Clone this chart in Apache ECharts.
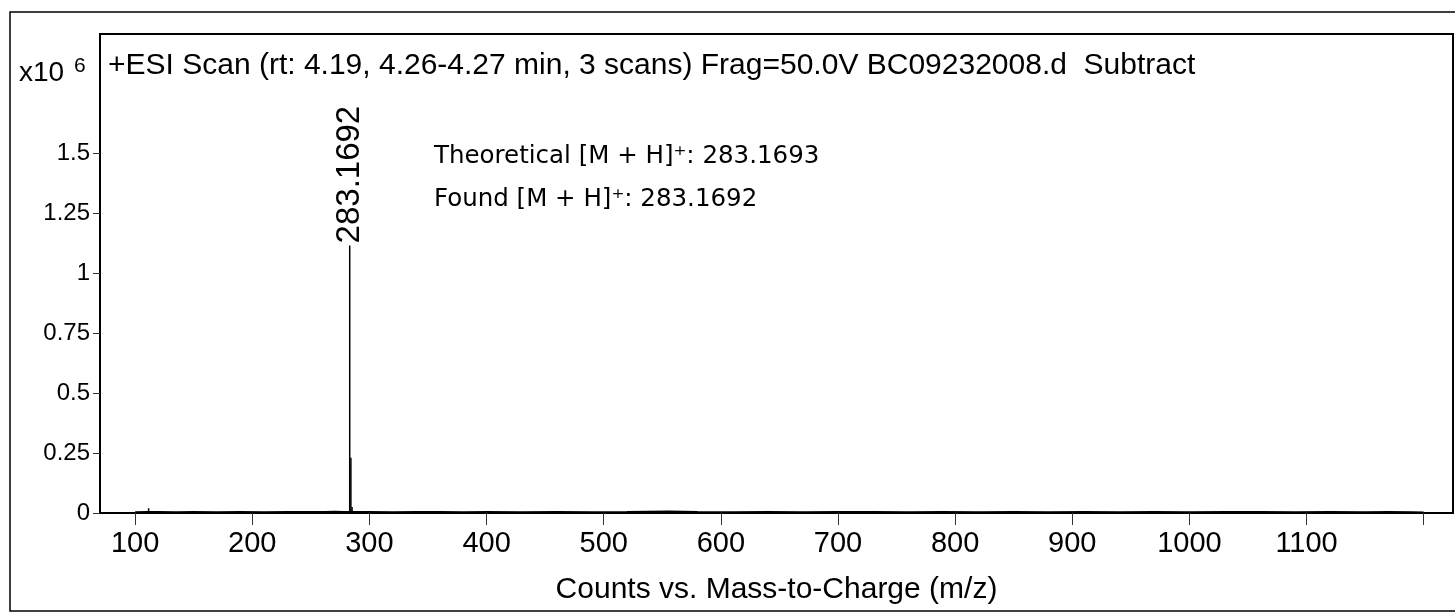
<!DOCTYPE html>
<html>
<head>
<meta charset="utf-8">
<script src="https://cdn.jsdelivr.net/npm/echarts@6/dist/echarts.min.js"></script>
<style>
	html, body { margin: 0; padding: 0; background: #fff; }
	#chart { width: 1455px; height: 613px; }
</style>
</head>
<body>
<div id="chart"></div>
<script>
	// peaks (m/z, counts x10^6)
	var peakMz = [111.5, 283.1692, 284.1725, 285.175];
	var peakCounts = [0.02, 1.115, 0.23, 0.025];

	// baseline noise (m/z, counts x10^6)
	var noiseMz = [100, 110, 120, 135, 150, 170, 190, 210, 230, 250, 262, 270, 278, 290, 300, 320, 340, 360, 380, 400, 430, 460, 490, 520, 555, 580, 610, 640, 670, 700, 730, 760, 790, 820, 850, 880, 910, 940, 970, 1000, 1030, 1060, 1090, 1120, 1150, 1170, 1190, 1200];
	var noiseCounts = [0.004, 0.005, 0.005, 0.004, 0.005, 0.004, 0.005, 0.004, 0.005, 0.005, 0.005, 0.006, 0.005, 0.005, 0.005, 0.004, 0.005, 0.005, 0.004, 0.005, 0.004, 0.005, 0.004, 0.005, 0.007, 0.005, 0.004, 0.005, 0.004, 0.005, 0.005, 0.004, 0.005, 0.004, 0.005, 0.004, 0.005, 0.004, 0.005, 0.004, 0.005, 0.005, 0.004, 0.005, 0.004, 0.005, 0.004, 0.003];

	var xTicks = [100, 200, 300, 400, 500, 600, 700, 800, 900, 1000, 1100, 1200];
	var xLabels = [100, 200, 300, 400, 500, 600, 700, 800, 900, 1000, 1100];
	var yTicks = [0, 0.25, 0.5, 0.75, 1, 1.25, 1.5];

	var titleText = '+ESI Scan (rt: 4.19, 4.26-4.27 min, 3 scans) Frag=50.0V BC09232008.d  Subtract';
	var noteLines = ['Theoretical [M + H]\u207A: 283.1693', 'Found [M + H]\u207A: 283.1692'];

	var chart = echarts.init(document.getElementById('chart'));

	var peakData = [];
	for (var i = 0; i < peakMz.length; i++) {
		var item = { value: [peakMz[i], peakCounts[i]] };
		if (i === 1) {
			item.label = {
				show: true,
				position: 'top',
				rotate: 90,
				align: 'left',
				verticalAlign: 'middle',
				distance: 2,
				formatter: '283.1692',
				color: '#000',
				fontFamily: 'Liberation Sans',
				fontSize: 33
			};
		}
		peakData.push(item);
	}
	var noiseData = [];
	for (var j = 0; j < noiseMz.length; j++) {
		noiseData.push([noiseMz[j], noiseCounts[j]]);
	}

	var option = {
		animation: false,
		backgroundColor: '#fff',
		title: {
			text: titleText,
			left: 108,
			top: 51,
			padding: 0,
			textStyle: {
				fontFamily: 'Liberation Sans',
				fontWeight: 'normal',
				fontSize: 30,
				color: '#000'
			}
		},
		grid: {
			left: 100,
			top: 34,
			right: 2,
			bottom: 100,
			show: true,
			borderColor: '#000',
			borderWidth: 2,
			backgroundColor: 'transparent'
		},
		xAxis: {
			type: 'value',
			min: 70,
			max: 1225,
			name: 'Counts vs. Mass-to-Charge (m/z)',
			nameLocation: 'middle',
			nameGap: 62,
			nameTextStyle: { fontFamily: 'Liberation Sans', fontSize: 30, color: '#000' },
			axisLine: { show: true, lineStyle: { color: '#000', width: 2 } },
			axisTick: { show: true, length: 12, customValues: xTicks, lineStyle: { color: '#333', width: 1 } },
			axisLabel: {
				customValues: xLabels,
				margin: 16,
				fontFamily: 'Liberation Sans',
				fontSize: 29,
				color: '#000',
				formatter: function (v) { return String(v); }
			},
			splitLine: { show: false }
		},
		yAxis: {
			type: 'value',
			min: 0,
			max: 1.996,
			axisLine: { show: true, lineStyle: { color: '#000', width: 2 } },
			axisTick: { show: true, length: 7, customValues: yTicks, lineStyle: { color: '#333', width: 1 } },
			axisLabel: { customValues: yTicks, margin: 10, fontFamily: 'Liberation Sans', fontSize: 24, color: '#000' },
			splitLine: { show: false }
		},
		graphic: [
			{
				type: 'rect',
				shape: { x: 10, y: 12, width: 1460, height: 599 },
				style: { fill: 'none', stroke: '#000', lineWidth: 1.5 },
				silent: true
			},
			{
				type: 'text',
				left: 19,
				top: 59,
				style: { text: 'x10', fontFamily: 'Liberation Sans', fontSize: 28, fill: '#000' }
			},
			{
				type: 'text',
				left: 74,
				top: 56,
				style: { text: '6', fontFamily: 'Liberation Sans', fontSize: 21, fill: '#000' }
			},
			{
				type: 'text',
				left: 434,
				top: 144,
				style: { text: noteLines[0], fontFamily: 'DejaVu Sans', fontSize: 24.5, fill: '#000' }
			},
			{
				type: 'text',
				left: 434,
				top: 187,
				style: { text: noteLines[1], fontFamily: 'DejaVu Sans', fontSize: 24.5, fill: '#000' }
			}
		],
		series: [
			{
				type: 'line',
				data: noiseData,
				symbol: 'none',
				lineStyle: { color: '#000', width: 1.5 },
				z: 2
			},
			{
				type: 'bar',
				data: peakData,
				barWidth: 1.5,
				itemStyle: { color: '#000' },
				z: 3
			}
		]
	};

	chart.setOption(option);
</script>
</body>
</html>
